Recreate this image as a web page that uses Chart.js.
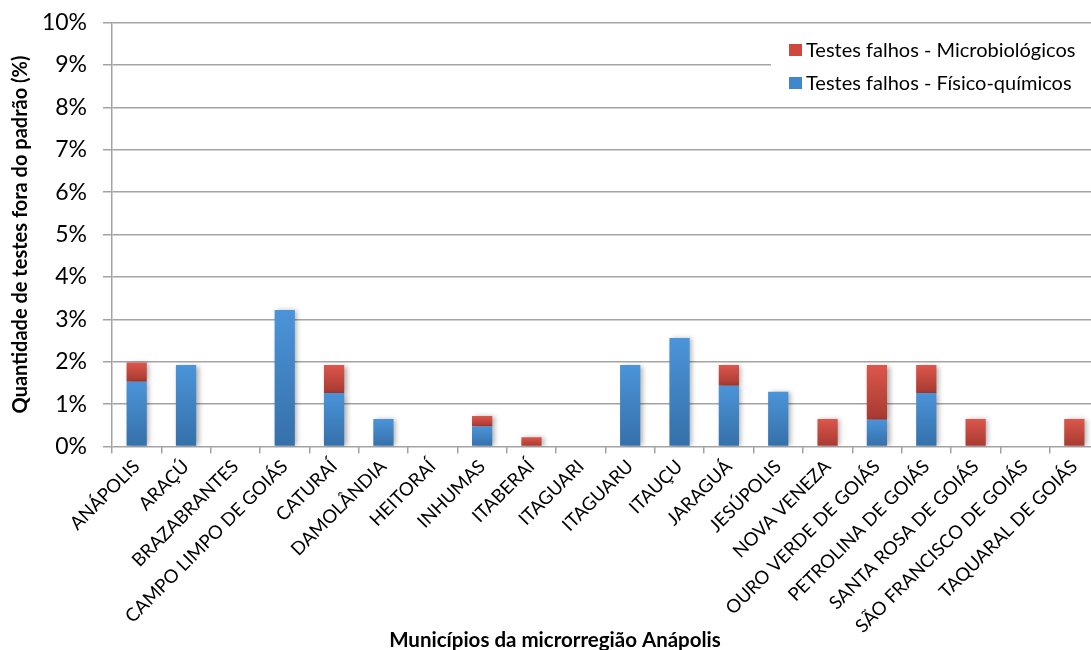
<!DOCTYPE html>
<html>
<head>
<meta charset="utf-8">
<script src="https://cdn.jsdelivr.net/npm/chart.js@4/dist/chart.umd.min.js"></script>
<style>
  html, body { margin: 0; padding: 0; background: #fff; overflow: hidden; width: 1091px; height: 650px; }
  #wrap { width: 1100px; height: 650px; }
</style>
</head>
<body>
<div id="wrap"><canvas id="c" width="1100" height="650"></canvas></div>
<script>
const categories = [
  'ANÁPOLIS', 'ARAÇÚ', 'BRAZABRANTES', 'CAMPO LIMPO DE GOIÁS', 'CATURAÍ',
  'DAMOLÂNDIA', 'HEITORAÍ', 'INHUMAS', 'ITABERAÍ', 'ITAGUARI',
  'ITAGUARU', 'ITAUÇU', 'JARAGUÁ', 'JESÚPOLIS', 'NOVA VENEZA',
  'OURO VERDE DE GOIÁS', 'PETROLINA DE GOIÁS', 'SANTA ROSA DE GOIÁS',
  'SÃO FRANCISCO DE GOIÁS', 'TAQUARAL DE GOIÁS'
];
// failed tests, % of total (physico-chemical at the bottom of each stack)
const fisicoQuimicos = [1.53, 1.92, 0, 3.22, 1.26, 0.65, 0, 0.47, 0, 0, 1.92, 2.56, 1.43, 1.29, 0, 0.63, 1.26, 0, 0, 0];
const microbiologicos = [0.45, 0, 0, 0, 0.66, 0, 0, 0.25, 0.22, 0, 0, 0, 0.49, 0, 0.65, 1.29, 0.66, 0.65, 0, 0.65];
const yTicks = [0, 1, 2, 3, 4, 5, 6, 7, 8, 9, 10];
const xTitle = 'Municípios da microrregião Anápolis';

const FONT = 'Lato, "Open Sans", sans-serif';
const GRID = '#a3a3a3';

// vertical gradient spanning one stacked segment
function segmentFill(top, bottom) {
  return (ctx) => {
    const chart = ctx.chart;
    const y = chart.scales && chart.scales.y;
    if (ctx.type !== 'data' || !y) return top;
    let base = 0;
    for (let d = 0; d < ctx.datasetIndex; d++) base += chart.data.datasets[d].data[ctx.dataIndex];
    const v = chart.data.datasets[ctx.datasetIndex].data[ctx.dataIndex];
    const y0 = y.getPixelForValue(base + v);
    const y1 = y.getPixelForValue(base);
    if (!isFinite(y0) || !isFinite(y1) || y1 - y0 < 0.5) return top;
    const g = chart.ctx.createLinearGradient(0, y0, 0, y1);
    g.addColorStop(0, top);
    g.addColorStop(1, bottom);
    return g;
  };
}

// soft drop shadow under the bars
const barShadow = {
  id: 'barShadow',
  beforeDatasetsDraw(chart) {
    const c = chart.ctx;
    c.save();
    c.shadowColor = 'rgba(0,0,0,0.32)';
    c.shadowBlur = 5;
    c.shadowOffsetX = 2.5;
    c.shadowOffsetY = 0.5;
  },
  afterDatasetsDraw(chart) { chart.ctx.restore(); }
};

// legend box inside the plot (top right) and the category-axis title
const insideLegend = {
  id: 'insideLegend',
  afterDraw(chart) {
    const c = chart.ctx;
    const area = chart.chartArea;
    c.save();
    c.fillStyle = '#fff';
    c.fillRect(771, 34, area.right - 771 + 5, 64);
    const items = [
      { label: chart.data.datasets[1].label, color: chart.data.datasets[1].legendColor, y: 50 },
      { label: chart.data.datasets[0].label, color: chart.data.datasets[0].legendColor, y: 83 }
    ];
    c.font = '20px ' + FONT;
    c.textBaseline = 'middle';
    c.textAlign = 'left';
    items.forEach(it => {
      c.fillStyle = it.color;
      c.fillRect(789, it.y - 6, 13, 12);
      c.fillStyle = '#000';
      c.fillText(it.label, 806, it.y + 1);
    });
    c.font = 'bold 20.5px ' + FONT;
    c.textAlign = 'center';
    c.fillText(xTitle, 555, 640);
    c.restore();
  }
};

const chart = new Chart(document.getElementById('c'), {
  type: 'bar',
  data: {
    labels: categories,
    datasets: [
      {
        label: 'Testes falhos - Físico-químicos',
        data: fisicoQuimicos,
        backgroundColor: segmentFill('#4b94d9', '#3570a9'),
        legendColor: '#4187cc',
        barPercentage: 0.41,
        categoryPercentage: 1
      },
      {
        label: 'Testes falhos - Microbiológicos',
        data: microbiologicos,
        backgroundColor: segmentFill('#dd564b', '#a63a31'),
        legendColor: '#cf473d',
        barPercentage: 0.41,
        categoryPercentage: 1
      }
    ]
  },
  options: {
    responsive: false,
    animation: false,
    layout: { padding: { top: 22.5, right: 1, left: 0, bottom: 0 } },
    plugins: { legend: { display: false }, tooltip: { enabled: false } },
    scales: {
      x: {
        stacked: true,
        offset: true,
        afterFit(s) { s.height = 203.5; },
        grid: { display: true, drawOnChartArea: false, drawTicks: true, tickLength: 7, offset: true, color: GRID, lineWidth: 1.5 },
        border: { display: false },
        ticks: {
          autoSkip: false, minRotation: 45, maxRotation: 45, padding: 2,
          color: '#000', font: { family: FONT, size: 18.5 }
        },
        title: { display: false }
      },
      y: {
        stacked: true,
        min: 0, max: 10,
        afterFit(s) { s.width = 112; s.paddingTop = 0; s.paddingBottom = 0; },
        afterBuildTicks(s) { s.ticks = yTicks.map(v => ({ value: v })); },
        grid: { color: GRID, lineWidth: 1.5, tickLength: 9 },
        border: { display: true, color: GRID, width: 1.5 },
        ticks: {
          padding: 16, color: '#000', font: { family: FONT, size: 23 },
          callback: v => v + '%'
        },
        title: {
          display: true, text: 'Quantidade de testes fora do padrão (%)',
          color: '#000', font: { family: FONT, size: 20, weight: 'bold' },
          padding: { top: 9, bottom: 0 }
        }
      }
    }
  },
  plugins: [barShadow, insideLegend]
});
// redraw once scales are laid out so the segment gradients resolve
chart.update();
</script>
</body>
</html>
